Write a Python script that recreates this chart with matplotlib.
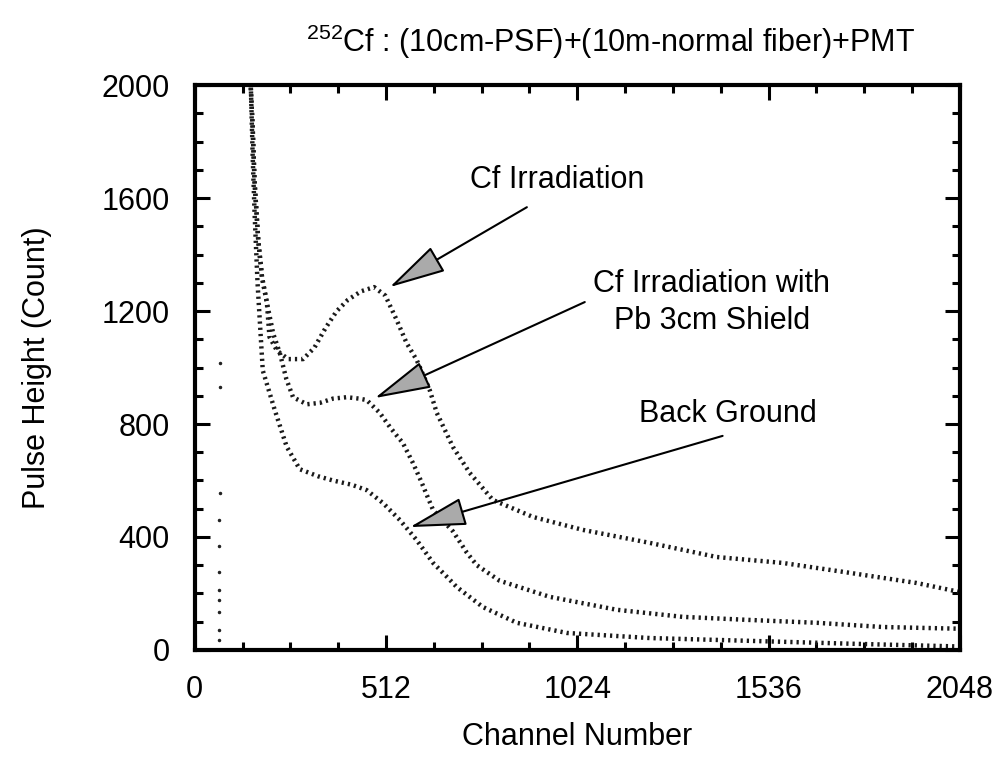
import matplotlib
matplotlib.use("Agg")
import matplotlib.pyplot as plt
from matplotlib.ticker import MultipleLocator

plt.rcParams["font.family"] = ["Liberation Sans", "DejaVu Sans"]
plt.rcParams["mathtext.fontset"] = "custom"
plt.rcParams["mathtext.rm"] = "Liberation Sans"
plt.rcParams["mathtext.it"] = "Liberation Sans:italic"

# Cf irradiation
cf_ch = [150, 155, 160, 170, 180, 193, 200, 220, 250, 290, 320, 350, 380, 410,
         445, 480, 510, 540, 567, 594, 629, 648, 691, 736, 798, 905, 1039, 1218,
         1397, 1574, 1753, 1932, 2048]
cf_cnt = [1990, 1850, 1660, 1450, 1320, 1230, 1108, 1060, 1030, 1030, 1070, 1140,
          1200, 1240, 1270, 1285, 1255, 1170, 1087, 1027, 920, 839, 719, 627, 531,
          471, 425, 379, 329, 308, 273, 237, 205]

# Cf irradiation with Pb 3cm shield
pb_ch = [150, 155, 160, 170, 180, 193, 210, 228, 245, 263, 300, 335, 370, 407,
         440, 460, 495, 522, 540, 557, 584, 605, 638, 691, 728, 755, 816, 950,
         1130, 1306, 1486, 1665, 1842, 2048]
pb_cnt = [1990, 1850, 1660, 1450, 1320, 1230, 1120, 1050, 960, 895, 870, 875, 890,
          895, 890, 885, 840, 790, 760, 733, 662, 600, 495, 420, 345, 300, 245,
          188, 142, 117, 106, 96, 81, 75]

# Back ground
bg_ch = [150, 155, 160, 168, 182, 214, 246, 281, 330, 370, 420, 460, 504, 549,
         594, 638, 683, 701, 771, 862, 996, 1218, 1486, 1753, 2048]
bg_cnt = [2000, 1750, 1550, 1300, 990, 850, 720, 640, 615, 600, 585, 566, 520, 460,
          389, 308, 248, 223, 152, 96, 60, 42, 32, 22, 12]

# sparse dots near the threshold channel
edge_ch = [64, 65, 64, 66, 65, 64, 66, 65, 67, 68, 67]
edge_cnt = [35, 71, 135, 177, 212, 276, 368, 460, 556, 931, 1016]

x_ticks = [0, 512, 1024, 1536, 2048]
y_ticks = [0, 400, 800, 1200, 1600, 2000]

fig = plt.figure(figsize=(10.04, 7.61), dpi=100)
ax = fig.add_axes([0.194, 0.146, 0.762, 0.742])

dot = dict(color="#1a1a1a", linestyle=(0, (0.5, 0.9)), linewidth=3.2)
ax.plot(cf_ch, cf_cnt, **dot)
ax.plot(pb_ch, pb_cnt, **dot)
ax.plot(bg_ch, bg_cnt, **dot)
ax.plot(edge_ch, edge_cnt, ".", color="#222222", markersize=3)

ax.set_xlim(0, 2048)
ax.set_ylim(0, 2000)
ax.set_xticks(x_ticks)
ax.set_yticks(y_ticks)
ax.xaxis.set_minor_locator(MultipleLocator(128))
ax.yaxis.set_minor_locator(MultipleLocator(100))
ax.tick_params(which="both", direction="in", top=True, right=True, width=2.2,
               labelsize=22, pad=18)
ax.tick_params(which="major", length=11)
ax.tick_params(which="minor", length=6)
for s in ax.spines.values():
    s.set_linewidth(3)

ax.set_xlabel("Channel Number", fontsize=22, labelpad=12)
ax.set_ylabel("Pulse Height (Count)", fontsize=22, labelpad=36)
fig.text(0.608, 1 - 42 / 761, "$^{252}$Cf : (10cm-PSF)+(10m-normal fiber)+PMT",
         fontsize=22, ha="center", va="center")

arrow = dict(arrowstyle="-|>,head_length=1.8,head_width=0.45", fc="#aaaaaa",
             ec="black", lw=1.5, mutation_scale=20, shrinkA=0, shrinkB=0)
ax.annotate("", xy=(522, 1285), xytext=(889, 1568), arrowprops=arrow)
ax.annotate("", xy=(482, 892), xytext=(1044, 1232), arrowprops=arrow)
ax.annotate("", xy=(576, 435), xytext=(1413, 758), arrowprops=arrow)

ax.text(969, 1664, "Cf Irradiation", fontsize=22, ha="center", va="center")
ax.text(1384, 1232, "Cf Irradiation with\nPb 3cm Shield", fontsize=22,
        ha="center", va="center", linespacing=1.3)
ax.text(1427, 835, "Back Ground", fontsize=22, ha="center", va="center")

fig.savefig("out.png", dpi=100)
